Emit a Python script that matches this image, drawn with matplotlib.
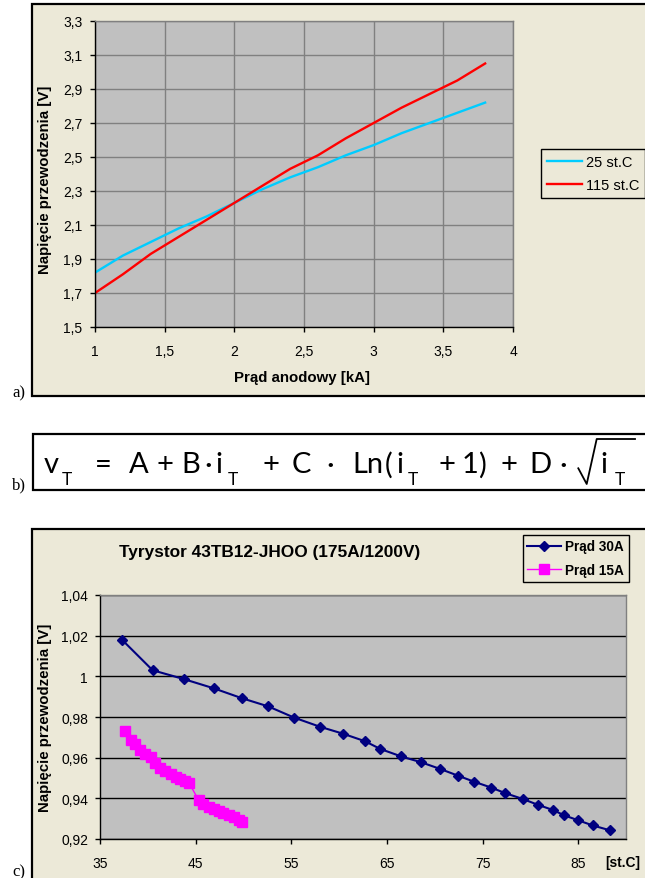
import matplotlib
matplotlib.use('Agg')
import matplotlib.pyplot as plt
from matplotlib.patches import Rectangle
from matplotlib.lines import Line2D

# ---------------- data: chart a) ----------------
current_ka = [1.0, 1.2, 1.4, 1.6, 1.8, 2.0, 2.2, 2.4, 2.6, 2.8, 3.0, 3.2, 3.4, 3.6, 3.8]
v_25c = [1.82, 1.92, 2.00, 2.08, 2.15, 2.23, 2.31, 2.38, 2.44, 2.51, 2.57, 2.64, 2.70, 2.76, 2.82]
v_115c = [1.70, 1.81, 1.93, 2.03, 2.13, 2.23, 2.33, 2.43, 2.51, 2.61, 2.70, 2.79, 2.87, 2.95, 3.05]
series_a = ['25 st.C', '115 st.C']
xticks_a = [1, 1.5, 2, 2.5, 3, 3.5, 4]
xticklabels_a = ['1', '1,5', '2', '2,5', '3', '3,5', '4']
yticks_a = [1.5, 1.7, 1.9, 2.1, 2.3, 2.5, 2.7, 2.9, 3.1, 3.3]
yticklabels_a = ['1,5', '1,7', '1,9', '2,1', '2,3', '2,5', '2,7', '2,9', '3,1', '3,3']

# ---------------- data: chart c) ----------------
temp_30a = [37.3, 40.5, 43.8, 46.9, 49.8, 52.6, 55.3, 58.0, 60.4, 62.7, 64.3, 66.5, 68.6,
            70.6, 72.4, 74.1, 75.9, 77.4, 79.2, 80.8, 82.4, 83.5, 85.0, 86.5, 88.3]
v_30a = [1.018, 1.003, 0.9986, 0.9941, 0.9893, 0.9852, 0.9797, 0.9752, 0.9718, 0.9681,
         0.9643, 0.9606, 0.9577, 0.9544, 0.9512, 0.9482, 0.9453, 0.9425, 0.9397, 0.9368,
         0.9342, 0.9317, 0.9292, 0.9267, 0.9243]
temp_15a = [37.6, 38.2, 38.7, 39.2, 39.7, 40.3, 40.8, 41.3, 41.8, 42.4, 42.9, 43.4, 43.9,
            44.3, 45.3, 45.8, 46.4, 46.9, 47.4, 47.9, 48.5, 49.0, 49.5, 49.9]
v_15a = [0.9731, 0.9689, 0.9665, 0.9640, 0.9620, 0.9601, 0.9574, 0.9549, 0.9532, 0.9521,
         0.9507, 0.9496, 0.9487, 0.9477, 0.9392, 0.9372, 0.9358, 0.9350, 0.9339, 0.9326,
         0.9317, 0.9306, 0.9292, 0.9284]
series_c = ['Prąd 30A', 'Prąd 15A']
xticks_c = [35, 45, 55, 65, 75, 85]
xticklabels_c = ['35', '45', '55', '65', '75', '85']
yticks_c = [0.92, 0.94, 0.96, 0.98, 1.00, 1.02, 1.04]
yticklabels_c = ['0,92', '0,94', '0,96', '0,98', '1', '1,02', '1,04']

SANS = ['Liberation Sans', 'DejaVu Sans']
SERIF = ['Liberation Serif', 'DejaVu Serif']
FORM = ['Lato', 'DejaVu Sans']
plt.rcParams['font.family'] = SANS
plt.rcParams['axes.grid'] = False

W, H = 645, 879
fig = plt.figure(figsize=(W / 100, H / 100), dpi=100)
fig.patch.set_facecolor('white')


def fx(x):
    return x / W


def fy(y):
    return 1 - y / H


def box(x0, y0, x1, y1):
    return [fx(x0), fy(y1), (x1 - x0) / W, (y1 - y0) / H]


BEIGE = '#ECE9D8'
PLOT = '#C0C0C0'

# frames
fig.patches.append(Rectangle((fx(32.3), fy(396.7)), (670 - 32.3) / W, (396.7 - 5.3) / H,
                             transform=fig.transFigure, facecolor=BEIGE, edgecolor='black',
                             lw=1.6, zorder=-10))
fig.patches.append(Rectangle((fx(33.3), fy(491)), (670 - 33.3) / W, (491 - 435) / H,
                             transform=fig.transFigure, facecolor='white', edgecolor='black',
                             lw=1.6, zorder=-10))
fig.patches.append(Rectangle((fx(32.3), fy(900)), (670 - 32.3) / W, (900 - 530) / H,
                             transform=fig.transFigure, facecolor=BEIGE, edgecolor='black',
                             lw=1.6, zorder=-10))


def style_axes(ax):
    ax.set_facecolor(PLOT)
    for s in ['top', 'right']:
        ax.spines[s].set_color('#808080')
        ax.spines[s].set_linewidth(1)
    for s in ['left', 'bottom']:
        ax.spines[s].set_color('black')
        ax.spines[s].set_linewidth(1)
    ax.set_axisbelow(True)
    ax.tick_params(direction='out', length=3.6, width=1, colors='black', labelsize=10)


# ---------------- chart a) ----------------
ax1 = fig.add_axes(box(95, 22, 513, 328))
style_axes(ax1)
ax1.plot(current_ka, v_25c, color='#00CCFF', lw=1.7, label=series_a[0])
ax1.plot(current_ka, v_115c, color='#FF0000', lw=1.7, label=series_a[1])
ax1.set_xlim(1, 4)
ax1.set_ylim(1.5, 3.3)
ax1.set_xticks(xticks_a, xticklabels_a)
ax1.set_yticks(yticks_a, yticklabels_a)
ax1.grid(True, axis='both', color='#808080', lw=1)
ax1.tick_params(axis='x', pad=9)
ax1.tick_params(axis='y', pad=5.5)
leg1 = ax1.legend(loc='upper left', bbox_to_anchor=(fx(541.3), fy(150)),
                  bbox_transform=fig.transFigure, borderaxespad=0, fancybox=False,
                  edgecolor='black', facecolor=BEIGE, framealpha=1,
                  prop=dict(family=SANS, size=10.5), handlelength=2.4,
                  handletextpad=0.25, borderpad=0.4, labelspacing=0.65)
leg1.get_frame().set_linewidth(1)
fig.text(fx(45), fy(180), 'Napięcie przewodzenia [V]', rotation=90, ha='center',
         va='center', fontsize=10.8, fontweight='bold')
fig.text(fx(302), fy(378), 'Prąd anodowy [kA]', ha='center', va='center',
         fontsize=10.8, fontweight='bold')
fig.text(fx(12), fy(397), 'a)', family=SERIF, fontsize=12, ha='left', va='baseline')

# ---------------- formula b) ----------------
main_tokens = [('v', 51), ('=', 103.5), ('A', 139), ('+', 165.5), ('B', 191), ('·', 208),
               ('i', 219), ('+', 270.5), ('C', 301.5), ('·', 330), ('Ln', 368), ('(', 389),
               ('i', 400), ('+', 447), ('1', 470), (')', 482), ('+', 508.5), ('D', 540),
               ('·', 563), ('i', 604)]
sub_tokens = [('T', 66.5), ('T', 233), ('T', 413), ('T', 620)]
for t, x in main_tokens:
    fig.text(fx(x), fy(473.3), t, family=FORM, fontsize=21, ha='center', va='baseline')
for t, x in sub_tokens:
    fig.text(fx(x), fy(485), t, family=FORM, fontsize=12.5, ha='center', va='baseline')
fig.add_artist(Line2D([fx(578.3), fx(586.7), fx(596.7), fx(635)],
                      [fy(469.3), fy(485), fy(440), fy(440)],
                      transform=fig.transFigure, color='black', lw=1.3))
fig.text(fx(12), fy(489), 'b)', family=SERIF, fontsize=12, ha='left', va='baseline')

# ---------------- chart c) ----------------
ax2 = fig.add_axes(box(100, 596, 626, 840))
style_axes(ax2)
ax2.plot(temp_30a, v_30a, color='#000080', lw=1.5, marker='D', ms=5.5, mew=1,
         mfc='#000080', mec='#000080', label=series_c[0])
ax2.plot(temp_15a, v_15a, color='#FF00FF', lw=1, marker='s', ms=7.5, mew=1,
         mfc='#FF00FF', mec='#FF00FF', label=series_c[1])
ax2.set_xlim(35, 90)
ax2.set_ylim(0.92, 1.04)
ax2.set_xticks(xticks_c, xticklabels_c)
ax2.set_yticks(yticks_c, yticklabels_c)
ax2.grid(True, axis='y', color='black', lw=1)
ax2.tick_params(axis='x', pad=8.5, gridOn=False)
ax2.tick_params(axis='y', pad=5)
for t in ax2.xaxis.get_major_ticks():
    t.gridline.set_visible(False)
leg2 = ax2.legend(loc='upper left', bbox_to_anchor=(fx(522.7), fy(535.7)),
                  bbox_transform=fig.transFigure, borderaxespad=0, fancybox=False,
                  edgecolor='black', facecolor=BEIGE, framealpha=1,
                  prop=dict(family=SANS, size=9.8, weight='bold'), handlelength=2.45,
                  handletextpad=0.3, borderpad=0.35, labelspacing=0.7)
leg2.get_frame().set_linewidth(1)
fig.text(fx(270), fy(553), 'Tyrystor 43TB12-JHOO (175A/1200V)', ha='center', va='center',
         fontsize=12.4, fontweight='bold')
fig.text(fx(45), fy(717.5), 'Napięcie przewodzenia [V]', rotation=90, ha='center',
         va='center', fontsize=10.8, fontweight='bold')
fig.text(fx(623), fy(863), '[st.C]', ha='center', va='center', fontsize=9.9,
         fontweight='bold')
fig.text(fx(12), fy(876), 'c)', family=SERIF, fontsize=12, ha='left', va='baseline')

fig.savefig('out.png', dpi=100)
